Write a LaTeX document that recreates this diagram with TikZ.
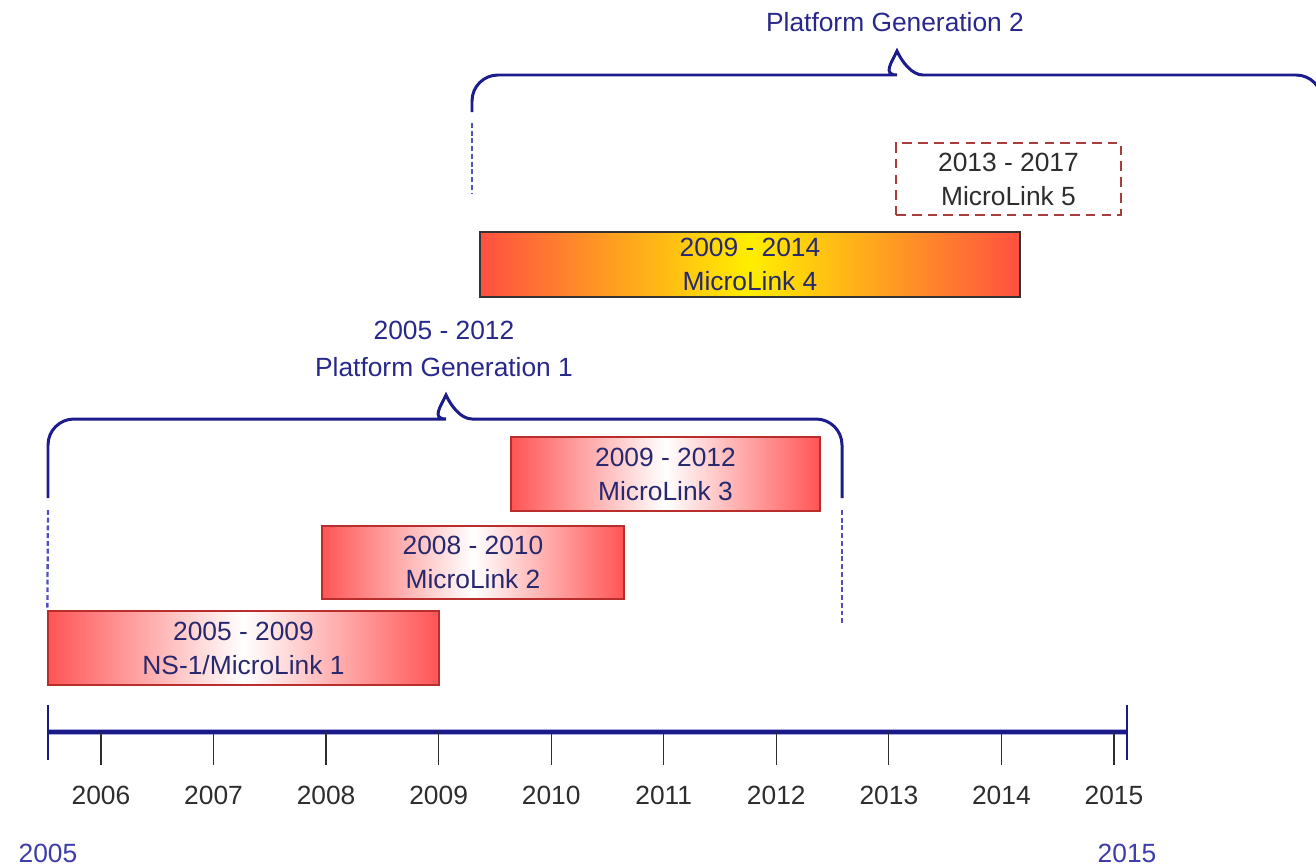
\documentclass[tikz,border=0pt]{standalone}
\usepackage{fontspec}
\setmainfont{Liberation Sans}

\definecolor{bracecolor}{RGB}{28,28,140}
\definecolor{guidecolor}{RGB}{80,80,195}
\definecolor{bracetext}{RGB}{40,40,140}
\definecolor{bartext}{RGB}{40,40,110}
\definecolor{barred}{RGB}{255,85,85}
\definecolor{barborder}{RGB}{185,45,45}
\definecolor{sunyellow}{RGB}{255,238,0}
\definecolor{sunred}{RGB}{255,80,65}
\definecolor{sunborder}{RGB}{50,50,50}
\definecolor{planborder}{RGB}{170,60,60}
\definecolor{plantext}{RGB}{45,45,45}
\definecolor{tickcolor}{RGB}{45,45,45}
\definecolor{endcolor}{RGB}{60,60,170}
\definecolor{axiscolor}{RGB}{25,25,135}
\definecolor{axisglow}{RGB}{170,170,220}

\begin{document}
\begin{tikzpicture}[x=0.02cm, y=-0.02cm,
  txt/.style={font=\fontsize{15}{19.3}\selectfont, align=center},
  redbar/.style={txt, draw=barborder, line width=0.8pt, left color=barred, right color=barred, middle color=white, text=bartext, inner sep=0pt},
  sunbar/.style={txt, draw=sunborder, line width=0.8pt, left color=sunred, right color=sunred, middle color=sunyellow, text=bartext, inner sep=0pt},
  planbar/.style={txt, draw=planborder, line width=1.1pt, dash pattern=on 5.5pt off 3.5pt, text=plantext, inner sep=0pt},
  brace/.style={draw=bracecolor, line width=1.7pt},
  guide/.style={draw=guidecolor, line width=1.3pt, dash pattern=on 2.8pt off 1.6pt},
  yeartick/.style={draw=tickcolor, line width=0.7pt},
  endtick/.style={draw=axiscolor, line width=0.8pt}]
\useasboundingbox (0,0) rectangle (1316,866);

% platform generations
\node[txt, text=bracetext] (gen2) at (895,22) {Platform Generation 2};
\node[txt, text=bracetext, font=\fontsize{15}{21}\selectfont] (gen1) at (444,349) {2005 - 2012\\Platform Generation 1};

\coordinate (g1l) at (48,498);
\coordinate (g1r) at (842,498);
\coordinate (g1tip) at (446,395);
\draw[brace] (g1l) [rounded corners=0.52cm] -- (48,419) -- (420,419) [sharp corners] .. controls (431,419) and (441,406) .. (g1tip) .. controls (451,406) and (461,419) .. (472,419) [rounded corners=0.52cm] -- (842,419) -- (g1r);

\coordinate (g2l) at (472,112);
\coordinate (g2tip) at (897,51);
\draw[brace] (g2l) [rounded corners=0.52cm] -- (472,75) -- (871,75) [sharp corners] .. controls (882,75) and (892,62) .. (g2tip) .. controls (902,62) and (912,75) .. (923,75) [rounded corners=0.52cm] -- (1322,75) -- (1322,112);

% bars
\node[redbar, minimum width=7.82cm, minimum height=1.48cm] (ml1) at (243.5,648) {2005 - 2009\\NS-1/MicroLink 1};
\node[redbar, minimum width=6.04cm, minimum height=1.46cm] (ml2) at (473,562.5) {2008 - 2010\\MicroLink 2};
\node[redbar, minimum width=6.18cm, minimum height=1.48cm] (ml3) at (665.5,474) {2009 - 2012\\MicroLink 3};
\node[sunbar, minimum width=10.8cm, minimum height=1.3cm] (ml4) at (750,264.5) {2009 - 2014\\MicroLink 4};
\node[planbar, minimum width=4.5cm, minimum height=1.44cm] (ml5) at (1008.5,179) {2013 - 2017\\MicroLink 5};

% guides
\coordinate (g1ldash) at (48,510);
\coordinate (g1rdash) at (842,510);
\coordinate (g1rend) at (842,625);
\coordinate (g2ldash) at (472,123);
\coordinate (g2lend) at (472,193);
\draw[guide] (g1ldash) -- (ml1.north west);
\draw[guide] (g1rdash) -- (g1rend);
\draw[guide] (g2ldash) -- (g2lend);

% time axis
\coordinate (axl) at (48,732);
\coordinate (axr) at (1127,732);
\draw[draw=axisglow, line width=3.6pt] (axl) -- (axr);
\draw[draw=axiscolor, line width=2pt] (axl) -- (axr);
\draw[endtick] (48,705) -- (48,760);
\draw[endtick] (1127,705) -- (1127,760);
\foreach \y [count=\i from 0] in {2006,...,2015} {
  \draw[yeartick] (101+112.55*\i,732) -- (101+112.55*\i,765);
  \node[txt, text=tickcolor] (y\y) at (101+112.55*\i,795) {\y};
}
\node[txt, text=endcolor] (start) at (48,853) {2005};
\node[txt, text=endcolor] (end) at (1127,853) {2015};
\end{tikzpicture}
\end{document}
